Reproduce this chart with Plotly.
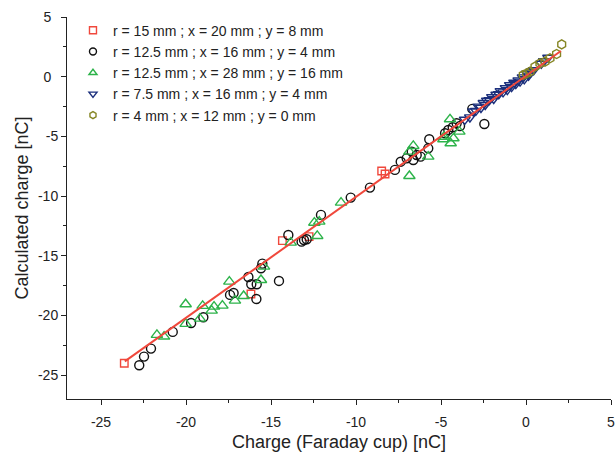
import plotly.graph_objects as go

# ---- data ----
sq_x = [-23.63, -16.18, -14.33, -12.76, -8.49, -8.29]
sq_y = [-24.0, -18.2, -13.73, -13.4, -7.9, -8.15]

ci_x = [-22.75, -22.47, -22.06, -20.78, -19.7, -18.98, -17.41, -17.2, -16.33, -16.16,
        -15.84, -15.86, -15.59, -15.51, -14.53, -13.98, -13.2, -13.06, -12.9, -12.06,
        -10.31, -9.18, -7.71, -7.37, -7.02, -6.72, -6.63, -6.43, -6.2, -5.75,
        -5.69, -4.76, -4.57, -4.31, -4.08, -3.88, -3.16, -2.45]
ci_y = [-24.17, -23.45, -22.78, -21.38, -20.63, -20.15, -18.28, -18.12, -16.78, -17.39,
        -17.39, -18.62, -16.05, -15.66, -17.11, -13.26, -13.82, -13.68, -13.62, -11.58,
        -10.13, -9.29, -7.81, -7.12, -6.84, -6.28, -6.98, -6.56, -6.7, -6.0,
        -5.24, -4.74, -4.46, -4.24, -3.9, -4.13, -2.7, -3.96]

tu_x = [-21.71, -21.29, -20.02, -20.02, -19.18, -19.02, -18.49, -18.35, -17.86, -17.45,
        -17.12, -16.61, -15.59, -15.41, -13.84, -12.28, -12.45, -12.16, -10.88, -6.63,
        -6.86, -5.75, -4.86, -4.47, -4.27, -4.43, -3.92, -4.82, -6.86]
tu_y = [-21.63, -21.77, -19.06, -20.71, -20.27, -19.2, -19.6, -19.26, -19.18, -17.17,
        -18.76, -18.37, -17.03, -15.91, -13.9, -13.34, -12.23, -12.14, -10.55, -5.8,
        -8.32, -6.7, -5.24, -3.57, -5.16, -5.58, -4.6, -5.03, -6.28]

td_x = [-3.6, -3.3, -3.1, -2.95, -2.8, -2.65, -2.5, -2.4, -2.3, -2.15, -2.0, -1.9,
        -1.75, -1.6, -1.5, -1.35, -1.2, -1.1, -0.95, -0.85, -0.7, -0.6, -0.45, -0.35,
        -0.2, -0.1, 0.05, 0.15, 0.3, 0.45, 0.9, 1.05, 1.3]
td_y = [-3.6, -3.4, -2.9, -2.85, -2.5, -2.6, -2.2, -2.35, -2.0, -1.95, -1.7, -1.85,
        -1.5, -1.45, -1.2, -1.3, -0.95, -1.1, -0.7, -0.85, -0.5, -0.6, -0.3, -0.4,
        -0.05, -0.2, 0.25, 0.1, 0.4, 0.55, 1.1, 1.3, 1.6]

hx_x = [2.1, 1.8, 1.41, 1.12, 0.82, 0.53, 0.24, 0.04, -0.16]
hx_y = [2.71, 1.9, 1.54, 1.26, 1.12, 0.84, 0.42, 0.28, 0.14]

fit_x = [-23.6, 2.05]
fit_y = [-23.85, 2.15]

names = ["r = 15 mm ; x = 20 mm ; y = 8 mm",
         "r = 12.5 mm ; x = 16 mm ; y = 4 mm",
         "r = 12.5 mm ; x = 28 mm ; y = 16 mm",
         "r = 7.5 mm ; x = 16 mm ; y = 4 mm",
         "r = 4 mm ; x = 12 mm ; y = 0 mm"]

x_ticks = [-25, -20, -15, -10, -5, 0, 5]
y_ticks = [-25, -20, -15, -10, -5, 0, 5]

TXT = "#222222"
fig = go.Figure()
series = [
    (sq_x, sq_y, "square-open", "#F0483C", 7.5),
    (ci_x, ci_y, "circle-open", "#111111", 9),
    (tu_x, tu_y, "triangle-up-open", "#2DB34A", 10),
    (td_x, td_y, "triangle-down-open", "#1B2F7C", 9.5),
    (hx_x, hx_y, "hexagon-open", "#858523", 9),
]
for (xs, ys, sym, col, sz), nm in zip(series, names):
    fig.add_trace(go.Scatter(x=xs, y=ys, mode="markers", name=nm, showlegend=False,
                             marker=dict(symbol=sym, size=sz, color=col,
                                         line=dict(width=1.4, color=col))))
fig.add_trace(go.Scatter(x=fit_x, y=fit_y, mode="lines", showlegend=False,
                         line=dict(color="#F0483C", width=2)))
# legend keys (smaller symbols, as in the reference legend)
for (xs, ys, sym, col, sz), nm in zip(series, names):
    fig.add_trace(go.Scatter(x=[None], y=[None], mode="markers", name=nm,
                             marker=dict(symbol=sym, size=7, color=col,
                                         line=dict(width=1.4, color=col))))

axis_common = dict(showline=True, linecolor=TXT, linewidth=1, ticks="outside",
                   ticklen=5, tickcolor=TXT, showgrid=False, zeroline=False,
                   automargin=False, ticklabeloverflow="allow",
                   tickfont=dict(size=14, color=TXT),
                   minor=dict(ticks="outside", ticklen=3, dtick=2.5, tickcolor=TXT))

fig.update_xaxes(range=[-27, 5], tickvals=x_ticks, ticktext=[str(v) for v in x_ticks],
                 ticklabelstandoff=5,
                 title=dict(text="Charge (Faraday cup) [nC]", font=dict(size=18, color=TXT),
                            standoff=6),
                 **axis_common)
fig.update_yaxes(range=[-27, 5], tickvals=y_ticks,
                 ticktext=[(str(v) if v < 0 else str(v) + "\u2002") for v in y_ticks],
                 title=dict(text="Calculated charge [nC]", font=dict(size=18, color=TXT),
                            standoff=4),
                 **axis_common)

fig.update_layout(
    width=615, height=456,
    margin=dict(l=67, r=4, t=17, b=57),
    paper_bgcolor="white", plot_bgcolor="white",
    font=dict(family="Liberation Sans, Arial, sans-serif", color=TXT),
    legend=dict(x=0.011, y=1.006, xanchor="left", yanchor="top",
                font=dict(size=14, color=TXT), bgcolor="rgba(0,0,0,0)",
                tracegroupgap=0),
)

fig.write_html("out.html")
